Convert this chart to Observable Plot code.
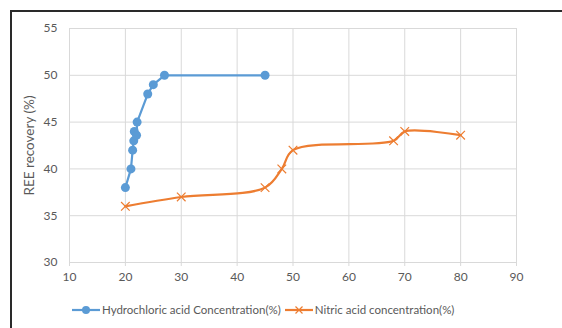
<!DOCTYPE html>
<html>
<head>
<meta charset="utf-8">
<script src="https://cdn.jsdelivr.net/npm/d3@7"></script>
<script src="https://cdn.jsdelivr.net/npm/@observablehq/plot@0.6"></script>
<style>
  html, body { margin: 0; padding: 0; background: #fff; }
  #wrap { position: relative; width: 562px; height: 328px; overflow: hidden; font-family: Lato, "Open Sans", sans-serif; }
  #frame { position: absolute; left: 10px; top: 10px; width: 700px; height: 500px; border-left: 2px solid #2a2a2a; border-top: 2px solid #2a2a2a; box-sizing: border-box; pointer-events: none; }
  #legend { position: absolute; top: 303px; left: 72px; display: flex; align-items: center; font-size: 11.5px; color: #595959; white-space: nowrap; }
  #legend .item { display: flex; align-items: center; margin-right: 4px; }
  #legend svg { margin-right: 2px; }
</style>
</head>
<body>
<div id="wrap">
  <div id="chart"></div>
  <div id="legend"></div>
  <div id="frame"></div>
</div>
<script>
// Hydrochloric acid series
const hclX = [20, 21, 21.3, 21.5, 21.6, 22, 22.1, 24, 25, 27, 45];
const hclY = [38, 40, 42, 43, 44, 43.6, 45, 48, 49, 50, 50];
// Nitric acid series
const hno3X = [20, 30, 45, 48, 50, 68, 70, 80];
const hno3Y = [36, 37, 38, 40, 42, 43, 44, 43.6];
const xTicks = [10, 20, 30, 40, 50, 60, 70, 80, 90];
const yTicks = [30, 35, 40, 45, 50, 55];
const seriesNames = ["Hydrochloric acid Concentration(%)", "Nitric acid concentration(%)"];
const colors = ["#5B9BD5", "#ED7D31"];

const hcl = hclX.map((x, i) => ({x, y: hclY[i]}));
const hno3 = hno3X.map((x, i) => ({x, y: hno3Y[i]}));

const chart = Plot.plot({
  width: 562,
  height: 328,
  marginLeft: 69,
  marginRight: 46,
  marginTop: 28,
  marginBottom: 66,
  style: { fontFamily: "Lato, 'Open Sans', sans-serif", fontSize: "13.5px", color: "#595959", background: "#fff" },
  x: { domain: [10, 90] },
  y: { domain: [30, 55] },
  marks: [
    Plot.gridX(xTicks, { stroke: "#d9d9d9", strokeOpacity: 1 }),
    Plot.gridY(yTicks, { stroke: "#d9d9d9", strokeOpacity: 1 }),
    Plot.axisX(xTicks, { tickSize: 4, tickPadding: 6, stroke: "#d9d9d9", fill: "#595959", fontSize: 12, label: null }),
    Plot.axisY(yTicks, { tickSize: 0, tickPadding: 12, fill: "#595959", fontSize: 12, label: null }),
    Plot.axisY({ ticks: [], tickSize: 0, label: "REE recovery (%)", labelAnchor: "center", labelArrow: "none", labelOffset: 45, fill: "#595959", fontSize: 13.5 }),
    Plot.line(hcl, { x: "x", y: "y", stroke: colors[0], strokeWidth: 2.2 }),
    Plot.dot(hcl, { x: "x", y: "y", r: 4.5, fill: colors[0], stroke: "none" }),
    Plot.line(hno3, { x: "x", y: "y", stroke: colors[1], strokeWidth: 2.2, curve: "catmull-rom" }),
    Plot.dot(hno3, { x: "x", y: "y", r: 4, symbol: "times", stroke: colors[1], strokeWidth: 1.2 })
  ]
});
document.getElementById("chart").appendChild(chart);

const legend = document.getElementById("legend");
seriesNames.forEach((name, i) => {
  const item = document.createElement("div");
  item.className = "item";
  const marker = i === 0
    ? `<circle cx="14" cy="6" r="4" fill="${colors[0]}"/>`
    : `<path d="M10.5 2.5L17.5 9.5M17.5 2.5L10.5 9.5" stroke="${colors[1]}" stroke-width="1.2"/>`;
  item.innerHTML = `<svg width="28" height="12"><line x1="0" x2="28" y1="6" y2="6" stroke="${colors[i]}" stroke-width="2.2"/>${marker}</svg><span>${name}</span>`;
  legend.appendChild(item);
});
</script>
</body>
</html>
